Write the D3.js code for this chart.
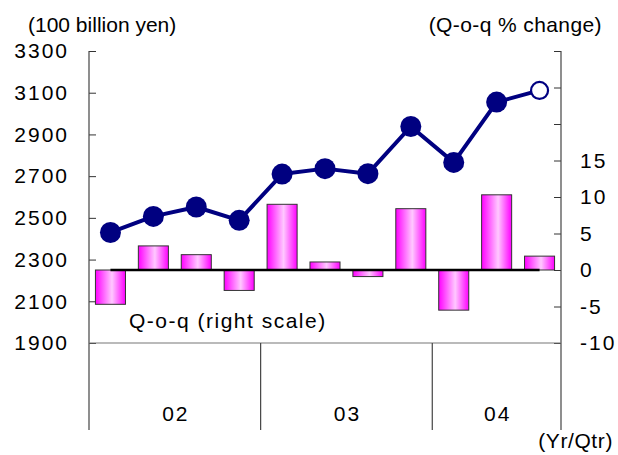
<!DOCTYPE html>
<html>
<head>
<meta charset="utf-8">
<script src="https://cdn.jsdelivr.net/npm/d3@7"></script>
<style>
  html, body { margin: 0; padding: 0; background: #fff; }
  svg { display: block; font-family: "Liberation Sans", Arial, sans-serif; }
  .num { font-size: 21px; letter-spacing: 2px; fill: #000; }
  .lbl { font-size: 21px; fill: #000; }
</style>
</head>
<body>
<svg id="chart" width="618" height="455"></svg>
<script>
// Quarterly level (100 billion yen), 2002 Q1 – 2004 Q3; last quarter is provisional
const quarters = ["02Q1","02Q2","02Q3","02Q4","03Q1","03Q2","03Q3","03Q4","04Q1","04Q2","04Q3"];
const levels   = [2430, 2507, 2552, 2488, 2710, 2736, 2712, 2938, 2766, 3055, 3111];
// Quarter-on-quarter % change (right scale)
const qoq      = [-4.7, 3.3, 2.1, -2.8, 9.0, 1.1, -0.9, 8.4, -5.5, 10.3, 1.9];
const years    = ["02", "03", "04"];
const quartersPerYear = [4, 4, 3];
const leftTicks  = [1900, 2100, 2300, 2500, 2700, 2900, 3100, 3300];
const rightTicks = [-10, -5, 0, 5, 10, 15, 20, 25, 30];
const rightLabelled = [-10, -5, 0, 5, 10, 15];

const svg = d3.select("#chart");
const L = 89, R = 561, T = 51, B = 343, catBottom = 430;

const x = d3.scaleBand().domain(quarters).range([L, R]).padding(0);
const yL = d3.scaleLinear().domain([1900, 3300]).range([B, T]);
const yR = d3.scaleLinear().domain([-10, 30]).range([B, T]);
const barW = x.bandwidth() * 0.7;
const cx = q => x(q) + x.bandwidth() / 2;

// horizontal magenta gradient for the bars
const defs = svg.append("defs");
const grad = defs.append("linearGradient").attr("id", "barGrad")
  .attr("x1", "0%").attr("x2", "100%").attr("y1", "0%").attr("y2", "0%");
grad.append("stop").attr("offset", "0%").attr("stop-color", "#ff00ff");
grad.append("stop").attr("offset", "55%").attr("stop-color", "#ffc8ff");
grad.append("stop").attr("offset", "100%").attr("stop-color", "#ff00ff");

// bars: q-o-q change
svg.append("g").selectAll("rect").data(quarters).join("rect")
  .attr("x", q => cx(q) - barW / 2)
  .attr("width", barW)
  .attr("y", (q, i) => yR(Math.max(0, qoq[i])))
  .attr("height", (q, i) => Math.abs(yR(qoq[i]) - yR(0)))
  .attr("fill", "url(#barGrad)")
  .attr("stroke", "#333")
  .attr("stroke-width", 1);

// zero reference line spanning first to last quarter
svg.append("line")
  .attr("x1", cx(quarters[0])).attr("x2", cx(quarters[quarters.length - 1]))
  .attr("y1", yR(0)).attr("y2", yR(0))
  .attr("stroke", "#000").attr("stroke-width", 2.5);

// left axis
const axL = svg.append("g").attr("transform", `translate(${L},0)`)
  .call(d3.axisLeft(yL).tickValues(leftTicks).tickSize(-7).tickPadding(20).tickFormat(d3.format("d")));
axL.select(".domain").remove();
axL.selectAll(".tick line").attr("stroke", "#333");
axL.selectAll(".tick text").attr("class", "num").attr("font-size", null).attr("font-family", null);

// right axis
const axR = svg.append("g").attr("transform", `translate(${R},0)`)
  .call(d3.axisRight(yR).tickValues(rightTicks).tickSize(-7).tickPadding(19)
    .tickFormat(d => rightLabelled.includes(d) ? String(d) : ""));
axR.select(".domain").remove();
axR.selectAll(".tick line").attr("stroke", "#333");
axR.selectAll(".tick text").attr("class", "num").attr("font-size", null).attr("font-family", null);

// axis lines, extended down through the year band
svg.append("line").attr("x1", L).attr("x2", L).attr("y1", T).attr("y2", catBottom)
  .attr("stroke", "#444").attr("stroke-width", 1.2);
svg.append("line").attr("x1", R).attr("x2", R).attr("y1", T).attr("y2", catBottom)
  .attr("stroke", "#444").attr("stroke-width", 1.2);
svg.append("line").attr("x1", L).attr("x2", R).attr("y1", B).attr("y2", B)
  .attr("stroke", "#777").attr("stroke-width", 1.2);

// year separators and labels
let start = 0;
years.forEach((yr, i) => {
  const first = quarters[start];
  const last = quarters[start + quartersPerYear[i] - 1];
  const x0 = x(first), x1 = x(last) + x.bandwidth();
  if (i > 0) {
    svg.append("line").attr("x1", x0).attr("x2", x0).attr("y1", B).attr("y2", catBottom)
      .attr("stroke", "#444").attr("stroke-width", 1.2);
  }
  svg.append("text").attr("class", "num")
    .attr("x", (x0 + x1) / 2 + 1).attr("y", 420.5)
    .attr("text-anchor", "middle").text(yr);
  start += quartersPerYear[i];
});

// level line with markers
const line = d3.line().x(d => cx(d.q)).y(d => yL(d.v));
const pts = quarters.map((q, i) => ({ q, v: levels[i], i }));
svg.append("path").datum(pts).attr("d", line)
  .attr("fill", "none").attr("stroke", "#000080").attr("stroke-width", 4)
  .attr("stroke-linejoin", "round");
svg.append("g").selectAll("circle").data(pts).join("circle")
  .attr("cx", d => cx(d.q)).attr("cy", d => yL(d.v))
  .attr("r", d => d.i === pts.length - 1 ? 8.5 : 10.5)
  .attr("fill", d => d.i === pts.length - 1 ? "#fff" : "#000080")
  .attr("stroke", "#000080")
  .attr("stroke-width", d => d.i === pts.length - 1 ? 2.2 : 0);

// titles and notes
svg.append("text").attr("class", "lbl").attr("x", 28).attr("y", 31.5).text("(100 billion yen)");
svg.append("text").attr("class", "lbl").attr("x", 602).attr("y", 31.5)
  .attr("text-anchor", "end").style("letter-spacing", "0.4px").text("(Q-o-q % change)");
svg.append("text").attr("class", "lbl").attr("x", 129).attr("y", 327.5)
  .style("letter-spacing", "1.5px").text("Q-o-q (right scale)");
svg.append("text").attr("class", "lbl").attr("x", 613).attr("y", 448)
  .attr("text-anchor", "end").style("letter-spacing", "0.6px").text("(Yr/Qtr)");
</script>
</body>
</html>
